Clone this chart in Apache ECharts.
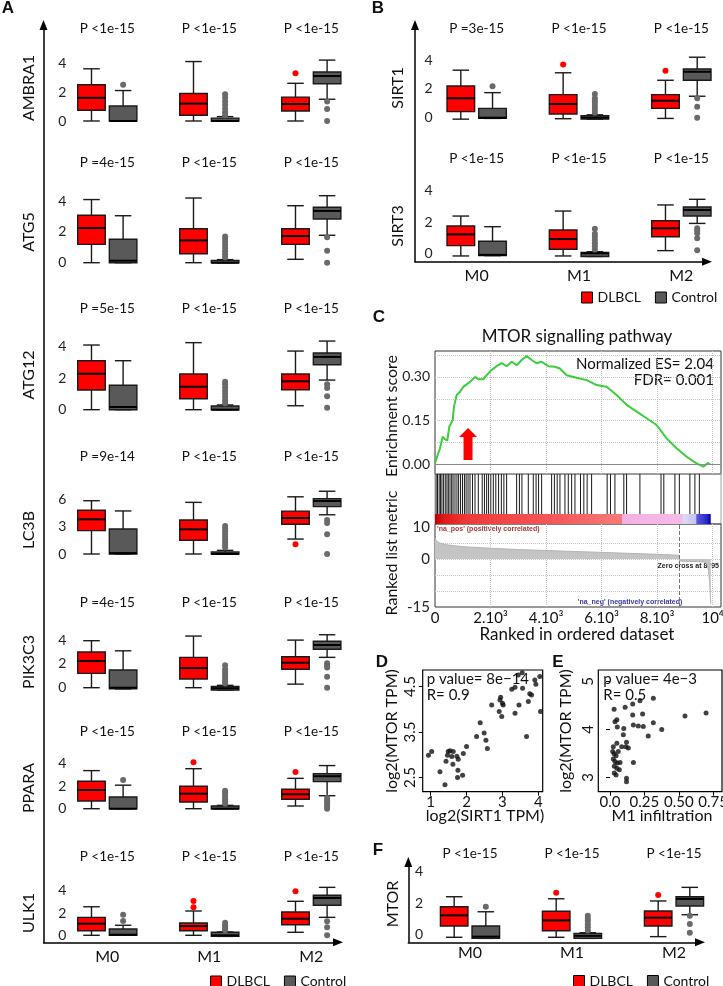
<!DOCTYPE html>
<html>
<head>
<meta charset="utf-8">
<script src="https://cdn.jsdelivr.net/npm/echarts@6/dist/echarts.min.js"></script>
<style>
  html, body { margin: 0; padding: 0; background: #fff; }
  #chart { width: 723px; height: 986px; }
</style>
</head>
<body>
<div id="chart"></div>
<script>
// ---- data ----
const groups = ['M0', 'M1', 'M2'];

// box stats per group: [min, q1, median, q3, max]
const AMBRA1 = {
  p: ['P <1e-15', 'P <1e-15', 'P <1e-15'],
  dlbcl: [[0, 0.74, 1.6, 2.5, 3.6], [0, 0.4, 1.2, 1.9, 4.1], [0, 0.69, 1.17, 1.65, 2.6]],
  control: [[0, 0, 0, 1.03, 2.1], [0, 0, 0, 0.2, 0.3], [1.5, 2.57, 3.1, 3.38, 4.2]],
  dlbclOut: [[], [], [3.3]],
  controlOut: [[2.5], [0.4, 0.6, 0.85, 1.1, 1.35, 1.6, 1.84], [1.35, 0.83, 0]]
};
const ATG5 = {
  p: ['P =4e-15', 'P <1e-15', 'P <1e-15'],
  dlbcl: [[0, 1.19, 2.25, 3.08, 4.1], [0, 0.58, 1.45, 2.2, 4.2], [0.22, 1.19, 1.73, 2.2, 3.7]],
  control: [[0, 0, 0.13, 1.52, 3.05], [0, 0, 0, 0.15, 0.2], [1.78, 2.84, 3.36, 3.6, 4.35]],
  dlbclOut: [[], [], []],
  controlOut: [[], [0.35, 0.55, 0.75, 0.95, 1.15, 1.35, 1.55, 1.7], [1.65, 0.78, 0]]
};
const ATG12 = {
  p: ['P =5e-15', 'P <1e-15', 'P <1e-15'],
  dlbcl: [[0, 1.24, 2.27, 3.09, 4.08], [0, 0.69, 1.45, 2.25, 4.23], [0.25, 1.26, 1.79, 2.25, 3.7]],
  control: [[0, 0, 0.17, 1.54, 3.09], [0, 0, 0, 0.23, 0.3], [1.87, 2.84, 3.33, 3.58, 4.33]],
  dlbclOut: [[], [], []],
  controlOut: [[], [0.4, 0.6, 0.8, 1.0, 1.2, 1.4, 1.6, 1.77], [1.6, 1.37, 0.85, 0.13]]
};
const LC3B = {
  p: ['P =9e-14', 'P <1e-15', 'P <1e-15'],
  dlbcl: [[0, 2.56, 3.8, 4.79, 5.84], [0, 1.5, 2.7, 3.73, 5.66], [1.64, 3.26, 3.95, 4.7, 6.27]],
  control: [[0, 0, 0.1, 2.74, 4.72], [0, 0, 0, 0.22, 0.4], [4.3, 5.2, 5.81, 6.07, 6.88]],
  dlbclOut: [[], [], [1.06]],
  controlOut: [[], [0.7, 1.0, 1.3, 1.6, 1.9, 2.2, 2.5, 2.8, 3.07], [3.73, 3.4, 2.16, 0]]
};
const PIK3C3 = {
  p: ['P =4e-15', 'P <1e-15', 'P <1e-15'],
  dlbcl: [[0, 1.2, 2.24, 3.0, 3.95], [0, 0.73, 1.65, 2.55, 4.34], [0.3, 1.55, 2.1, 2.6, 4.0]],
  control: [[-0.1, -0.1, 0, 1.49, 3.1], [-0.2, -0.2, -0.05, 0.1, 0.2], [2.55, 3.23, 3.59, 3.9, 4.45]],
  dlbclOut: [[], [], []],
  controlOut: [[], [0.35, 0.55, 0.75, 0.95, 1.15, 1.35, 1.55, 1.88], [2.05, 1.83, 1.69, 0.92, 0]]
};
const PPARA = {
  p: ['P <1e-15', 'P <1e-15', 'P <1e-15'],
  dlbcl: [[0, 0.69, 1.67, 2.45, 3.4], [0, 0.6, 1.34, 2.0, 3.57], [0.24, 0.84, 1.29, 1.73, 2.71]],
  control: [[0, 0, 0, 1.04, 2.1], [0, 0, 0, 0.24, 0.3], [1.16, 2.42, 2.9, 3.13, 3.85]],
  dlbclOut: [[], [4.14], [3.28]],
  controlOut: [[2.56], [0.45, 0.65, 0.85, 1.05, 1.25, 1.45, 1.6], [0.95, 0.75, 0.55, 0.35, 0.15, 0]]
};
const ULK1 = {
  p: ['P <1e-15', 'P <1e-15', 'P <1e-15'],
  dlbcl: [[0, 0.41, 1.04, 1.61, 2.56], [0, 0.41, 0.83, 1.1, 2.18], [0.27, 0.95, 1.49, 2.09, 3.05]],
  control: [[0, 0, 0.05, 0.57, 0.9], [-0.1, -0.1, 0, 0.27, 0.3], [1.61, 2.69, 3.35, 3.59, 4.3]],
  dlbclOut: [[], [3.08, 2.51], [3.95]],
  controlOut: [[1.85, 1.28], [0.45, 0.6, 0.75, 0.9, 1.13], [1.26, 0.72, 0]]
};
const SIRT1 = {
  p: ['P =3e-15', 'P <1e-15', 'P <1e-15'],
  dlbcl: [[-0.1, 0.42, 1.35, 2.2, 3.3], [-0.07, 0.26, 0.95, 1.6, 3.12], [-0.05, 0.65, 1.18, 1.6, 2.6]],
  control: [[-0.05, -0.05, 0, 0.65, 1.74], [-0.1, -0.1, 0, 0.14, 0.2], [1.49, 2.6, 3.19, 3.38, 4.2]],
  dlbclOut: [[], [3.7], [3.26]],
  controlOut: [[2.18], [0.35, 0.55, 0.75, 0.95, 1.15, 1.35, 1.65], [1.35, 0.76, 0]]
};
const SIRT3 = {
  p: ['P <1e-15', 'P <1e-15', 'P <1e-15'],
  dlbcl: [[-0.17, 0.49, 1.21, 1.74, 2.38], [-0.17, 0.26, 0.91, 1.49, 2.7], [0.17, 1.06, 1.6, 2.08, 3.09]],
  control: [[-0.15, -0.15, -0.1, 0.77, 1.7], [-0.2, -0.2, 0, 0.06, 0.1], [1.91, 2.38, 2.77, 2.96, 3.45]],
  dlbclOut: [[], [], []],
  controlOut: [[], [0.25, 0.45, 0.65, 0.85, 1.05, 1.25, 1.57], [1.6, 1.45, 1.28, 0.96, 0.2]]
};
const MTOR = {
  p: ['P <1e-15', 'P <1e-15', 'P <1e-15'],
  dlbcl: [[-0.19, 0.53, 1.21, 1.76, 2.4], [-0.19, 0.23, 0.89, 1.47, 2.27], [-0.15, 0.53, 1.06, 1.49, 2.13]],
  control: [[-0.26, -0.26, -0.15, 0.53, 1.44], [-0.26, -0.26, -0.1, 0.06, 0.1], [1.25, 1.81, 2.26, 2.4, 3.0]],
  dlbclOut: [[], [2.66], [2.51]],
  controlOut: [[1.76], [0.25, 0.45, 0.65, 0.85, 1.0, 1.19], [1.19, 0.66, 0.1]]
};

// GSEA: running enrichment score [rank, ES]
const esCurve = [[0, 0.005], [180, 0.055], [277, 0.095], [360, 0.086], [443, 0.081], [515, 0.129],
  [637, 0.152], [684, 0.198], [781, 0.238], [900, 0.249], [1019, 0.266], [1260, 0.283], [1440, 0.3],
  [1559, 0.292], [1739, 0.292], [1861, 0.306], [2041, 0.324], [2221, 0.337], [2401, 0.347], [2581, 0.337],
  [2761, 0.352], [2941, 0.34], [3121, 0.358], [3301, 0.372], [3481, 0.358], [3661, 0.347], [3841, 0.352],
  [4079, 0.337], [4320, 0.335], [4500, 0.329], [4741, 0.306], [5101, 0.297], [5461, 0.289], [5821, 0.272],
  [6181, 0.266], [6541, 0.238], [6901, 0.204], [7261, 0.181], [7621, 0.158], [7981, 0.135], [8341, 0.089],
  [8701, 0.055], [9061, 0.026], [9421, 0.003], [9659, -0.008], [9839, 0.005], [9900, -0.001]];
const hitRanks = [40, 90, 150, 200, 250, 310, 370, 430, 480, 540, 600, 650, 720, 790, 850, 920, 990, 1060,
  1120, 1190, 1260, 1350, 1440, 1560, 1700, 1780, 1860, 1930, 2010, 2100, 2190, 2290, 2390, 2480, 2580,
  2940, 3040, 3130, 3360, 3540, 3640, 3730, 3840, 4200, 4300, 4400, 4500, 4680, 4800, 4920, 5040, 5240,
  5360, 5480, 5640, 6200, 6320, 6480, 6800, 6900, 7380, 8140, 8240, 8640, 8800, 9180, 9360, 9520];
// ranked list metric [rank, value]
const metricCurve = [[0, 6.6], [40, 5.8], [150, 5.1], [400, 4.5], [1000, 3.9], [2000, 3.4], [3000, 3.0],
  [4000, 2.7], [5000, 2.4], [6000, 2.1], [7000, 1.8], [8000, 1.5], [8790, 1.2], [8800, -0.6], [9700, -0.9],
  [9790, -1.5], [9850, -3.5], [9890, -7], [9915, -11], [9930, -14]];
const nGenes = 9930;
const zeroCross = 8795;
const nes = '2.04', fdr = '0.001';
const rankTicks = [0, 2000, 4000, 6000, 8000, 10000];

// D: SIRT1 vs MTOR
const sirt1D = [0.94, 1.03, 1.26, 1.43, 1.47, 1.49, 1.54, 1.59, 1.62, 1.63, 1.73, 1.77, 1.76, 1.89, 1.91, 2.0,
  2.28, 2.38, 2.49, 2.54, 2.58, 2.7, 2.91, 2.93, 2.95, 2.98, 3.0, 3.02, 3.26, 3.35, 3.35, 3.44, 3.46, 3.55,
  3.56, 3.67, 3.72, 3.76, 3.81, 3.9, 3.93, 4.04, 4.06, 1.4, 1.75];
const mtorD = [2.99, 3.07, 2.63, 2.86, 2.99, 3.07, 3.09, 2.96, 2.79, 3.07, 2.97, 2.9, 2.66, 2.55, 3.03, 3.18,
  3.4, 3.7, 3.48, 3.32, 3.14, 4.09, 3.95, 4.2, 4.26, 3.84, 4.13, 4.09, 4.44, 4.48, 3.91, 4.75, 4.09, 4.8,
  4.46, 3.4, 4.17, 4.34, 4.31, 4.64, 4.55, 4.72, 3.95, 2.34, 2.5];
const statsD = ['8e\u221214', '0.9'];
// E: M1 infiltration vs MTOR
const m1E = [0.03, 0.036, 0.05, 0.053, 0.11, 0.1, 0.097, 0.12, 0.085, 0.116, 0.133, 0.05, 0.024, 0.02, 0.03,
  0.044, 0.06, 0.024, 0.036, 0.053, 0.073, 0.031, 0.05, 0.044, 0.068, 0.12, 0.17, 0.165, 0.165, 0.17, 0.206,
  0.237, 0.218, 0.242, 0.278, 0.315, 0.315, 0.376, 0.545, 0.698, 0.031, 0.12];
const mtorE = [4.42, 4.16, 4.2, 4.05, 4.46, 4.02, 3.89, 3.73, 3.64, 3.64, 3.61, 3.71, 3.64, 3.54, 3.49, 3.45,
  3.54, 3.38, 3.33, 3.3, 3.31, 3.23, 3.19, 3.05, 3.16, 2.98, 3.31, 4.53, 4.3, 4.09, 4.07, 4.32, 4.6, 4.06,
  3.86, 4.65, 4.14, 4.0, 4.28, 4.34, 3.09, 2.91];
const statsE = ['4e\u22123', '0.5'];

// ---- layout / styling ----
const FONT = 'Lato';
const INK = '#111';
const RED = '#ff0000', GRAY = '#595959', DOT = '#6a6a6a';

const panelA = { left: 56.3, width: 306, labelMargin: -10, nameX: 29 };
const panelB = { left: 425.5, width: 307, labelMargin: -7, nameX: 398 };
const panelF = { left: 419, width: 306, labelMargin: -4, nameX: 392.5 };

const rows = [
  { name: 'AMBRA1', d: AMBRA1, panel: panelA, y0: 121, ppu: 14.5, pY: 29, nameY: 88 },
  { name: 'ATG5', d: ATG5, panel: panelA, y0: 262.7, ppu: 15.4, pY: 163, nameY: 232 },
  { name: 'ATG12', d: ATG12, panel: panelA, y0: 409.7, ppu: 15.85, pY: 309, nameY: 375 },
  { name: 'LC3B', d: LC3B, panel: panelA, y0: 554, ppu: 9.12, pY: 457, nameY: 530, yMin: -0.7, yMax: 7.2, ticks: [0, 3, 6] },
  { name: 'PIK3C3', d: PIK3C3, panel: panelA, y0: 687.7, ppu: 11.9, pY: 603, nameY: 662 },
  { name: 'PPARA', d: PPARA, panel: panelA, y0: 808.7, ppu: 11.2, pY: 732, nameY: 788 },
  { name: 'ULK1', d: ULK1, panel: panelA, y0: 935.3, ppu: 11.15, pY: 857, nameY: 913, groupLabelY: 957 },
  { name: 'SIRT1', d: SIRT1, panel: panelB, y0: 117.7, ppu: 14.4, pY: 29, nameY: 88 },
  { name: 'SIRT3', d: SIRT3, panel: panelB, y0: 253.3, ppu: 15.65, pY: 159, nameY: 226, groupLabelY: 276 },
  { name: 'MTOR', d: MTOR, panel: panelF, y0: 934.3, ppu: 15.65, pY: 854, nameY: 904, groupLabelY: 953 }
];

const grid = [], xAxis = [], yAxis = [], series = [], graphic = [];

function label(x, y, text, opt) {
  opt = opt || {};
  const align = opt.align || 'center';
  graphic.push({
    type: 'text', x: x, y: y, silent: true,
    rotation: opt.rotate ? Math.PI / 2 : 0,
    style: {
      text: text, fill: opt.color || INK, fontFamily: opt.family || FONT,
      fontSize: opt.size || 16, fontWeight: opt.weight || 'normal',
      align: align, textAlign: align, verticalAlign: 'middle', textVerticalAlign: 'middle'
    }
  });
}

function boxSeries(name, stats, side, fill, xi, yi) {
  return {
    type: 'custom', name: name, xAxisIndex: xi, yAxisIndex: yi,
    itemStyle: { color: fill },
    data: stats.map((s, i) => [i].concat(s)),
    encode: { x: 0, y: [1, 2, 3, 4, 5] },
    renderItem(params, api) {
      const band = api.size([1, 0])[0];
      const c = api.value(0);
      const cx = api.coord([c, 0])[0] + side * band * 0.155;
      const w = band * 0.27, cap = w * 0.3;
      const y = k => api.coord([c, api.value(k)])[1];
      const yMin = y(1), yQ1 = y(2), yMed = y(3), yQ3 = y(4), yMax = y(5);
      const st = { stroke: '#1a1a1a', lineWidth: 1.4 };
      return {
        type: 'group', children: [
          { type: 'line', shape: { x1: cx, y1: yMax, x2: cx, y2: yQ3 }, style: st },
          { type: 'line', shape: { x1: cx, y1: yQ1, x2: cx, y2: yMin }, style: st },
          { type: 'line', shape: { x1: cx - cap, y1: yMax, x2: cx + cap, y2: yMax }, style: st },
          { type: 'line', shape: { x1: cx - cap, y1: yMin, x2: cx + cap, y2: yMin }, style: st },
          { type: 'rect', shape: { x: cx - w / 2, y: yQ3, width: w, height: Math.max(yQ1 - yQ3, 1) },
            style: { fill: fill, stroke: '#1a1a1a', lineWidth: 1.4 } },
          { type: 'line', shape: { x1: cx - w / 2, y1: yMed, x2: cx + w / 2, y2: yMed }, style: { stroke: '#000', lineWidth: 2 } }
        ]
      };
    }
  };
}

function dotSeries(name, outs, side, fill, xi, yi) {
  const data = [];
  outs.forEach((vals, i) => vals.forEach(v => data.push([i, v])));
  return {
    type: 'custom', name: name, xAxisIndex: xi, yAxisIndex: yi,
    itemStyle: { color: fill }, data: data, encode: { x: 0, y: 1 },
    renderItem(params, api) {
      const band = api.size([1, 0])[0];
      const p = api.coord([api.value(0), api.value(1)]);
      return { type: 'circle', shape: { cx: p[0] + side * band * 0.155, cy: p[1], r: 3 }, style: { fill: fill } };
    }
  };
}

function addRow(r) {
  const P = r.panel;
  const yMin = r.yMin != null ? r.yMin : -0.5;
  const yMax = r.yMax != null ? r.yMax : 4.6;
  const top = r.y0 - yMax * r.ppu;
  const bottom = r.y0 - yMin * r.ppu;
  const gi = grid.length;
  grid.push({ left: P.left, width: P.width, top: top, height: bottom - top, outerBoundsMode: 'none' });
  const xi = xAxis.length;
  xAxis.push({
    gridIndex: gi, type: 'category', data: groups, position: 'top',
    axisLine: { show: false }, axisTick: { show: false }, splitLine: { show: false },
    axisLabel: { formatter: (v, i) => r.d.p[i], margin: top - r.pY - 7, fontSize: 13.5, fontFamily: FONT, color: INK }
  });
  if (r.groupLabelY) {
    xAxis.push({
      gridIndex: gi, type: 'category', data: groups, position: 'bottom',
      axisLine: { show: false }, axisTick: { show: false }, splitLine: { show: false },
      axisLabel: { margin: r.groupLabelY - 8 - bottom, fontSize: 16, fontFamily: FONT, color: INK }
    });
  }
  const yi = yAxis.length;
  yAxis.push({
    gridIndex: gi, type: 'value', min: yMin, max: yMax,
    splitLine: { show: false }, axisLine: { show: false }, axisTick: { show: false },
    axisLabel: { customValues: r.ticks || [0, 2, 4], margin: P.labelMargin, fontSize: 14, fontFamily: FONT, color: '#222' }
  });
  series.push(
    boxSeries('DLBCL', r.d.dlbcl, -1, RED, xi, yi),
    boxSeries('Control', r.d.control, 1, GRAY, xi, yi),
    dotSeries('DLBCL', r.d.dlbclOut, -1, RED, xi, yi),
    dotSeries('Control', r.d.controlOut, 1, DOT, xi, yi)
  );
  label(P.nameX, r.nameY, r.name, { rotate: true, size: 16 });
}

// arrow-headed frame axes for the box panels
function frame(x, yTop, xRight, yBottom) {
  const gi = grid.length;
  grid.push({ left: x, top: yTop, width: xRight - x, height: yBottom - yTop, outerBoundsMode: 'none' });
  const ax = () => ({
    gridIndex: gi, type: 'value', min: 0, max: 1,
    axisLabel: { show: false }, axisTick: { show: false }, splitLine: { show: false },
    axisLine: { show: true, onZero: false, symbol: ['none', 'triangle'], symbolSize: [8, 10],
      lineStyle: { color: '#000', width: 1.5 } }
  });
  xAxis.push(ax());
  yAxis.push(ax());
}

frame(43.5, 25, 338, 942.3);
frame(415, 25, 707, 261.7);
frame(408.3, 862, 700, 942.3);
rows.forEach(addRow);

// ---- panel C: GSEA ----
const cLeft = 435, cWidth = 286;
function rankAxis(gi, extra) {
  return Object.assign({
    gridIndex: gi, type: 'value', min: 0, max: 10300,
    axisLine: { show: false }, axisTick: { show: false, customValues: rankTicks.slice(1) },
    axisLabel: { show: false },
    splitLine: { show: true, lineStyle: { type: 'dotted', color: '#c4c4c4' } }
  }, extra || {});
}

// enrichment score
let gi = grid.length;
grid.push({ left: cLeft, top: 351, width: cWidth, height: 123, show: true, borderColor: '#333', borderWidth: 1, outerBoundsMode: 'none' });
let xi = xAxis.length, yi = yAxis.length;
xAxis.push(rankAxis(gi));
yAxis.push({
  gridIndex: gi, type: 'value', min: -0.0333, max: 0.389,
  axisLine: { show: false }, axisTick: { show: false, customValues: [0.075, 0.15, 0.225, 0.3, 0.375] },
  axisLabel: { customValues: [0, 0.15, 0.3], formatter: v => v.toFixed(2), margin: 5, fontSize: 14, fontFamily: FONT, color: '#222' },
  splitLine: { show: true, lineStyle: { type: 'dotted', color: '#c4c4c4' } }
});
series.push({
  type: 'line', name: 'ES', xAxisIndex: xi, yAxisIndex: yi, data: esCurve,
  symbol: 'none', lineStyle: { color: '#3dcc3d', width: 2 }, itemStyle: { color: '#3dcc3d' },
  markLine: { silent: true, symbol: 'none', label: { show: false }, lineStyle: { color: '#8a8a8a', type: 'solid', width: 1 }, data: [{ yAxis: 0 }] },
  markPoint: {
    silent: true, symbol: 'path://M9,0L18,9L13.5,9L13.5,32L4.5,32L4.5,9L0,9Z', symbolSize: [18, 32],
    itemStyle: { color: '#ff0000' }, label: { show: false }, data: [{ coord: [1190, 0.07] }]
  }
});

// hits + colour bar
gi = grid.length;
grid.push({ left: cLeft, top: 474, width: cWidth, height: 50, show: true, borderColor: '#a0a0a0', borderWidth: 1, outerBoundsMode: 'none' });
xi = xAxis.length; yi = yAxis.length;
xAxis.push(rankAxis(gi, { splitLine: { show: false } }));
yAxis.push({ gridIndex: gi, type: 'value', min: 0, max: 1, show: false });
series.push({
  type: 'custom', name: 'hits', xAxisIndex: xi, yAxisIndex: yi,
  data: hitRanks.map(r => [r, 1]), encode: { x: 0, y: 1 },
  renderItem(params, api) {
    const a = api.coord([api.value(0), 1]), b = api.coord([api.value(0), 0.2]);
    return { type: 'line', shape: { x1: a[0], y1: a[1], x2: b[0], y2: b[1] }, style: { stroke: '#1a1a1a', lineWidth: 1 } };
  }
});
series.push({
  type: 'custom', name: 'rankbar', xAxisIndex: xi, yAxisIndex: yi,
  data: [[0, nGenes]], encode: { x: [0, 1] },
  renderItem(params, api) {
    const a = api.coord([api.value(0), 0.2]), b = api.coord([api.value(1), 0]);
    return {
      type: 'rect', shape: { x: a[0], y: a[1], width: b[0] - a[0], height: b[1] - a[1] },
      style: {
        fill: new echarts.graphic.LinearGradient(0, 0, 1, 0, [
          { offset: 0, color: '#b80000' }, { offset: 0.03, color: '#e01818' }, { offset: 0.12, color: '#f03a3a' },
          { offset: 0.45, color: '#f55a5a' }, { offset: 0.678, color: '#f87a7a' }, { offset: 0.68, color: '#f4b0e2' },
          { offset: 0.897, color: '#f6bce8' }, { offset: 0.9, color: '#dcdcf6' }, { offset: 0.945, color: '#c4c4f0' },
          { offset: 0.95, color: '#5858e0' }, { offset: 0.985, color: '#2a2ac8' }, { offset: 1, color: '#0000a0' }
        ])
      }
    };
  }
});

// ranked list metric
gi = grid.length;
grid.push({ left: cLeft, top: 524, width: cWidth, height: 83, show: true, borderColor: '#333', borderWidth: 1, outerBoundsMode: 'none' });
xi = xAxis.length; yi = yAxis.length;
xAxis.push(rankAxis(gi, {
  axisLabel: {
    show: true, customValues: rankTicks, margin: 4, fontSize: 15, fontFamily: FONT, color: INK,
    formatter: v => v === 0 ? '0' : (v === 10000 ? '10\u2074' : (v / 1000) + '.10\u00b3')
  }
}));
yAxis.push({
  gridIndex: gi, type: 'value', min: -15, max: 11,
  axisLine: { show: false }, axisTick: { show: false, customValues: [5, 0, -5, -10] },
  axisLabel: { customValues: [10, 0, -15], margin: 5, fontSize: 15, fontFamily: FONT, color: '#222' },
  splitLine: { show: true, lineStyle: { type: 'dotted', color: '#c4c4c4' } }
});
series.push({
  type: 'line', name: 'metric', xAxisIndex: xi, yAxisIndex: yi, data: metricCurve,
  symbol: 'none', lineStyle: { color: '#b4b4b4', width: 1 }, areaStyle: { color: '#c4c4c4', opacity: 1 },
  markLine: {
    silent: true, symbol: 'none', label: { show: false },
    lineStyle: { color: '#777', type: 'dashed', width: 1 }, data: [{ xAxis: zeroCross }]
  }
});

// ---- panels D, E: scatter ----
function scatterPanel(left, width, xr, yr, xTicks, yTicks, xFmt, xs, ys, yMargin) {
  const g = grid.length;
  grid.push({ left: left, top: 670, width: width, height: 121.7, show: true, borderColor: '#000', borderWidth: 1.2, outerBoundsMode: 'none' });
  const ix = xAxis.length, iy = yAxis.length;
  xAxis.push({
    gridIndex: g, type: 'value', min: xr[0], max: xr[1], axisLine: { show: false }, splitLine: { show: false },
    axisTick: { show: true, customValues: xTicks, length: 4, lineStyle: { color: '#000' } },
    axisLabel: { customValues: xTicks, formatter: xFmt, margin: 3, fontSize: 15, fontFamily: FONT, color: INK }
  });
  yAxis.push({
    gridIndex: g, type: 'value', min: yr[0], max: yr[1], axisLine: { show: false }, splitLine: { show: false },
    axisTick: { show: true, customValues: yTicks, length: 4, lineStyle: { color: '#000' } },
    axisLabel: { customValues: yTicks, rotate: 90, margin: yMargin, fontSize: 15, fontFamily: FONT, color: INK }
  });
  series.push({
    type: 'scatter', name: 'pts' + g, xAxisIndex: ix, yAxisIndex: iy,
    data: xs.map((v, i) => [v, ys[i]]), symbolSize: 5, itemStyle: { color: '#111' }
  });
}
scatterPanel(422.7, 120, [0.78, 4.12], [2.19, 4.86], [1, 2, 3, 4], [2.5, 3.5, 4.5], v => String(v), sirt1D, mtorD, 5);
scatterPanel(598.3, 123.7, [-0.085, 0.814], [2.7, 5.24], [0, 0.25, 0.5, 0.75], [3, 4, 5],
  v => v === 0 ? '0.0' : v.toFixed(2), m1E, mtorE, 3);

// ---- free text ----
const BOLD = { weight: 'bold', size: 17, family: 'Liberation Sans' };
label(8, 8, 'A', BOLD);
label(378, 8, 'B', BOLD);
label(379, 317, 'C', BOLD);
label(382, 662, 'D', BOLD);
label(558, 662, 'E', BOLD);
label(378, 850, 'F', BOLD);

label(577, 337, 'MTOR signalling pathway', { size: 17 });
label(714, 364, 'Normalized ES= ' + nes, { size: 15, align: 'right' });
label(714, 380, 'FDR= ' + fdr, { size: 15, align: 'right' });
label(392, 416, 'Enrichment score', { size: 16 , rotate: true });
label(392, 553, 'Ranked list metric', { size: 16, rotate: true });
label(577, 635, 'Ranked in ordered dataset', { size: 17 });
label(437, 529, "'na_pos' (positively correlated)", { size: 7, weight: 'bold', family: 'Liberation Sans', color: '#a33a3a', align: 'left' });
label(719, 566, 'Zero cross at ' + zeroCross, { size: 7, weight: 'bold', family: 'Liberation Sans', color: '#222', align: 'right' });
label(630, 602, "'na_neg' (negatively correlated)", { size: 7, weight: 'bold', family: 'Liberation Sans', color: '#3a3a9a' });

label(426.7, 679, 'p value= ' + statsD[0], { size: 15, align: 'left' });
label(426.7, 695, 'R= ' + statsD[1], { size: 15, align: 'left' });
label(603.3, 679, 'p value= ' + statsE[0], { size: 15, align: 'left' });
label(603.3, 695, 'R= ' + statsE[1], { size: 15, align: 'left' });
label(392, 731, 'log2(MTOR TPM)', { size: 16, rotate: true });
label(566, 731, 'log2(MTOR TPM)', { size: 16, rotate: true });
label(485, 816, 'log2(SIRT1 TPM)', { size: 16 });
label(662, 816, 'M1 infiltration', { size: 16 });

const legendBase = {
  data: ['DLBCL', 'Control'], icon: 'rect', itemWidth: 11, itemHeight: 11, itemGap: 14, selectedMode: false,
  itemStyle: { borderColor: '#000', borderWidth: 1 },
  textStyle: { fontSize: 14, fontFamily: FONT, color: INK }, padding: 0
};

const chart = echarts.init(document.getElementById('chart'));
chart.setOption({
  animation: false,
  backgroundColor: '#fff',
  textStyle: { fontFamily: FONT },
  legend: [
    Object.assign({ left: 210, top: 974.5 }, legendBase),
    Object.assign({ left: 581, top: 290.5 }, legendBase),
    Object.assign({ left: 573, top: 974 }, legendBase)
  ],
  grid: grid,
  xAxis: xAxis,
  yAxis: yAxis,
  series: series,
  graphic: graphic
});
</script>
</body>
</html>
